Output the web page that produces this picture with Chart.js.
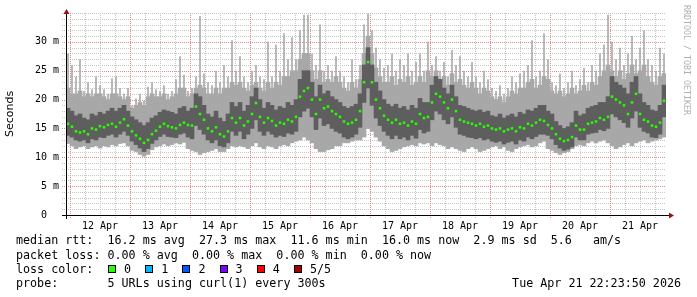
<!DOCTYPE html>
<html>
<head>
<meta charset="utf-8">
<script src="https://cdn.jsdelivr.net/npm/chart.js@4/dist/chart.umd.min.js"></script>
<style>
  html, body { margin: 0; padding: 0; background: #fff; }
  #wrap { position: relative; width: 697px; height: 297px; overflow: hidden; }
  #wrap canvas { position: absolute; left: 0; top: 0; }
  .row { position: absolute; left: 16px; font: 11.7px "DejaVu Sans Mono", monospace; line-height: 14px; white-space: pre; color: #000; }
  .sq { position: absolute; top: 3px; width: 8px; height: 8px; border: 1px solid #000; box-sizing: border-box; }
  .lab { position: absolute; top: 0; }
  #credit { position: absolute; left: 682px; top: 5px; writing-mode: vertical-rl; font: 8.3px "DejaVu Sans Mono", monospace; line-height: 10px; color: #b0b0b0; white-space: pre; }
</style>
</head>
<body>
<div id="wrap">
  <canvas id="grafico" width="697" height="297"></canvas>
  <div class="row" style="top:233px">median rtt:  16.2 ms avg  27.3 ms max  11.6 ms min  16.0 ms now  2.9 ms sd  5.6   am/s</div>
  <div class="row" style="top:248px">packet loss: 0.00 % avg  0.00 % max  0.00 % min  0.00 % now</div>
  <div class="row" id="lossRow" style="top:262px">loss color:</div>
  <div class="row" style="top:276px">probe:       5 URLs using curl(1) every 300s</div>
  <div class="row" style="top:276px;left:auto;right:16px">Tue Apr 21 22:23:50 2026</div>
  <div id="credit">RRDTOOL / TOBI OETIKER</div>
</div>
<script>
// hours relative to 12 Apr 00:00, one sample per 1.6 h
const startHour = -1.6;
const stepHours = 1.6;

const dayLabels = ['12 Apr', '13 Apr', '14 Apr', '15 Apr', '16 Apr', '17 Apr', '18 Apr', '19 Apr', '20 Apr', '21 Apr'];

// smoke: slowest ping (thin spikes)
const maxRtt = [
  28.0, 26.0, 24.0, 27.0, 21.5, 23.0, 21.8, 24.0, 22.5, 21.8, 21.0, 23.7, 24.0, 22.0, 21.0, 22.0, 19.0, 20.2, 21.0, 19.8, 22.2, 23.0, 21.8, 21.5, 22.5, 21.0, 21.5, 23.5, 27.5, 24.3,
  21.5, 22.0, 24.0, 34.5, 24.5, 23.0, 22.5, 25.0, 23.0, 26.0, 24.0, 30.3, 25.0, 27.5, 24.0, 23.0, 25.0, 26.0, 24.0, 23.5, 30.0, 24.0, 29.5, 25.0, 31.5, 27.0, 30.8, 27.0, 32.0, 34.7,
  34.7, 28.0, 26.0, 33.0, 25.0, 26.0, 25.0, 27.5, 25.0, 24.0, 23.0, 27.0, 23.5, 26.0, 33.0, 34.9, 32.0, 29.0, 27.0, 25.5, 26.0, 28.0, 25.0, 27.0, 26.0, 28.0, 25.0, 26.5, 28.0, 25.0,
  30.0, 26.0, 27.5, 25.0, 26.5, 24.0, 28.6, 26.0, 27.5, 25.0, 24.0, 26.5, 24.0, 23.0, 25.0, 23.5, 22.0, 21.5, 22.5, 21.0, 22.0, 24.0, 23.0, 24.5, 25.0, 26.0, 30.3, 24.0, 25.0, 31.5,
  27.0, 23.0, 22.5, 24.5, 22.0, 23.0, 25.0, 22.5, 23.5, 25.5, 23.0, 26.0, 25.0, 28.0, 29.5, 34.7, 30.0, 27.0, 29.0, 26.0, 28.0, 31.0, 27.0, 29.0, 32.0, 27.0, 26.0, 25.0, 29.0, 28.0
];
// smoke: top of the bulk of the slow pings
const smokeTop = [
  22.0, 21.0, 21.0, 21.5, 20.5, 21.0, 20.5, 21.0, 21.0, 20.5, 20.0, 21.0, 21.0, 20.5, 20.0, 20.5, 18.5, 19.0, 19.5, 19.0, 20.5, 21.0, 20.5, 20.5, 21.0, 20.0, 20.5, 21.0, 22.0, 22.0,
  20.5, 21.0, 22.0, 22.5, 22.0, 21.0, 21.0, 22.0, 21.0, 22.0, 22.0, 23.0, 22.5, 23.0, 22.0, 21.5, 22.5, 23.0, 22.0, 21.5, 23.0, 22.0, 23.0, 22.5, 24.0, 24.0, 25.0, 25.0, 27.0, 28.0,
  28.0, 25.0, 23.5, 25.0, 23.0, 23.5, 23.0, 24.0, 23.0, 22.0, 21.5, 23.0, 22.0, 23.5, 28.0, 31.0, 28.0, 25.5, 24.0, 23.0, 23.0, 24.0, 22.5, 23.5, 23.0, 24.0, 22.5, 23.0, 24.0, 23.0,
  25.0, 24.0, 25.0, 23.5, 24.0, 22.5, 24.5, 23.0, 23.5, 22.5, 22.0, 23.0, 22.0, 21.0, 22.0, 21.5, 20.5, 20.0, 20.5, 19.5, 20.5, 21.5, 21.0, 22.0, 22.0, 23.0, 23.5, 22.0, 22.5, 24.0,
  23.5, 21.5, 21.0, 21.5, 20.5, 21.0, 22.0, 21.0, 21.5, 22.5, 21.5, 23.0, 22.5, 24.0, 25.0, 26.0, 25.0, 24.0, 25.0, 23.5, 24.5, 26.0, 24.5, 25.0, 26.0, 24.0, 23.0, 22.5, 24.0, 24.5
];
// smoke: fastest ping
const minRtt = [
  12.4, 12.0, 11.5, 11.8, 12.0, 11.5, 11.8, 12.0, 11.6, 12.0, 11.8, 12.2, 12.0, 12.4, 12.5, 12.0, 11.2, 11.0, 10.5, 10.2, 10.5, 11.3, 11.8, 12.0, 12.3, 12.0, 12.2, 12.5, 12.3, 12.6,
  11.5, 11.2, 11.0, 10.5, 10.8, 11.0, 11.2, 11.5, 11.0, 11.0, 11.5, 12.0, 11.8, 12.0, 11.8, 11.5, 12.0, 12.5, 11.8, 11.5, 12.0, 11.8, 11.5, 12.0, 12.2, 12.0, 12.5, 12.8, 13.0, 13.5,
  13.0, 12.5, 11.5, 11.0, 11.0, 11.3, 11.5, 12.0, 12.0, 12.5, 12.5, 12.8, 13.0, 13.0, 13.5, 15.0, 14.5, 13.5, 12.8, 12.0, 11.5, 11.0, 11.2, 11.5, 11.8, 12.0, 12.2, 12.0, 12.5, 12.3,
  12.5, 12.0, 12.5, 12.2, 12.0, 11.5, 11.8, 11.5, 11.2, 11.0, 11.5, 11.8, 11.5, 11.0, 11.2, 11.5, 11.8, 12.0, 11.5, 11.8, 11.2, 11.0, 11.5, 11.8, 12.0, 12.2, 11.8, 12.0, 12.5, 12.8,
  11.5, 11.2, 10.8, 10.5, 10.8, 11.0, 11.5, 12.0, 12.2, 12.0, 12.5, 12.8, 12.5, 12.8, 13.0, 12.5, 12.0, 11.5, 11.8, 12.2, 12.5, 12.0, 12.5, 12.8, 13.0, 12.5, 12.8, 13.0, 13.2, 13.5
];
// dense part of the smoke
const upperRtt = [
  18.5, 18.0, 17.2, 17.5, 16.8, 16.5, 17.5, 17.2, 17.8, 17.5, 18.0, 18.5, 18.0, 18.5, 19.0, 18.0, 17.0, 16.5, 16.0, 15.5, 16.0, 16.8, 17.2, 17.8, 18.2, 18.0, 17.8, 17.5, 18.5, 18.8,
  18.0, 18.5, 21.0, 20.5, 19.0, 17.5, 17.0, 18.0, 16.8, 16.2, 17.5, 19.5, 18.8, 19.5, 18.0, 19.0, 20.5, 22.0, 20.0, 18.5, 19.5, 19.0, 18.2, 18.8, 18.5, 19.5, 19.0, 20.0, 23.5, 25.0,
  25.0, 23.0, 20.5, 22.5, 21.0, 21.5, 20.5, 20.0, 19.5, 18.8, 18.5, 18.8, 19.2, 21.0, 26.0, 29.0, 26.0, 23.0, 21.5, 20.0, 19.2, 18.8, 19.2, 18.5, 18.8, 18.2, 19.0, 18.5, 20.2, 19.5,
  19.5, 22.5, 24.0, 23.5, 22.0, 21.0, 22.5, 20.5, 19.0, 18.8, 18.5, 18.2, 18.0, 18.2, 17.8, 18.0, 17.2, 17.0, 17.5, 16.8, 17.2, 17.5, 17.0, 17.8, 17.5, 18.2, 18.0, 18.5, 19.0, 19.0,
  18.0, 17.5, 16.2, 15.5, 15.0, 15.3, 16.0, 18.0, 17.2, 17.5, 18.5, 18.8, 19.0, 19.5, 19.5, 20.5, 24.0, 23.0, 22.5, 22.0, 21.0, 23.0, 24.0, 21.0, 19.5, 19.0, 18.2, 18.0, 19.0, 22.5
];
const lowerRtt = [
  13.8, 13.5, 13.0, 12.8, 13.0, 12.5, 13.2, 13.0, 13.5, 13.4, 13.8, 14.0, 13.5, 14.0, 14.5, 13.8, 12.8, 12.2, 11.6, 11.0, 11.5, 12.4, 13.0, 13.6, 14.0, 13.6, 13.5, 13.4, 14.0, 14.2,
  13.5, 13.2, 15.5, 14.8, 14.0, 13.0, 12.5, 13.0, 12.0, 11.8, 12.5, 14.5, 13.8, 14.5, 13.2, 14.0, 15.0, 16.5, 14.5, 13.8, 14.5, 14.0, 13.5, 13.8, 13.6, 14.2, 14.0, 14.5, 17.0, 18.0,
  18.5, 17.0, 14.8, 16.8, 15.5, 15.8, 15.0, 14.5, 14.2, 13.5, 13.2, 13.5, 14.0, 15.2, 19.5, 22.0, 19.0, 16.8, 15.5, 14.5, 13.8, 13.2, 13.8, 13.2, 13.5, 13.0, 13.8, 13.3, 14.8, 14.2,
  14.5, 16.5, 18.0, 17.5, 16.5, 15.8, 17.0, 15.2, 14.0, 13.8, 13.5, 13.4, 13.2, 13.4, 13.0, 13.2, 12.8, 12.6, 12.8, 12.3, 12.6, 12.8, 12.3, 13.0, 12.8, 13.5, 13.2, 13.6, 14.0, 14.0,
  13.8, 13.2, 12.2, 11.6, 11.2, 11.4, 11.8, 13.5, 13.0, 13.0, 14.0, 14.2, 14.3, 14.8, 14.6, 15.0, 17.5, 17.0, 16.5, 16.0, 15.2, 16.8, 18.0, 15.2, 14.5, 14.2, 13.5, 13.4, 14.0, 17.0
];
const medianRtt = [
  15.8, 15.3, 14.5, 14.3, 14.5, 14.0, 15.0, 14.8, 15.4, 15.2, 15.6, 15.8, 15.3, 16.0, 16.6, 15.5, 14.5, 13.8, 13.2, 12.5, 13.0, 14.0, 14.6, 15.3, 15.8, 15.4, 15.2, 15.0, 15.6, 16.0,
  15.6, 15.5, 18.8, 17.5, 16.5, 15.0, 14.5, 15.2, 14.0, 13.6, 14.5, 16.8, 16.0, 16.8, 15.5, 16.2, 17.5, 19.4, 17.0, 16.0, 16.8, 16.3, 15.5, 16.0, 15.8, 16.5, 16.2, 17.0, 20.5, 21.5,
  22.0, 20.0, 17.5, 20.0, 18.5, 18.8, 18.0, 17.5, 17.0, 16.2, 15.8, 16.0, 16.5, 18.0, 23.0, 26.5, 23.0, 20.0, 18.5, 17.2, 16.5, 16.0, 16.5, 15.8, 16.0, 15.5, 16.2, 15.8, 17.5, 16.8,
  17.0, 19.5, 21.0, 20.5, 19.5, 18.5, 20.0, 18.0, 16.5, 16.2, 16.0, 15.8, 15.5, 15.8, 15.3, 15.5, 15.0, 14.8, 15.0, 14.5, 14.8, 15.0, 14.5, 15.2, 15.0, 15.8, 15.5, 16.0, 16.5, 16.3,
  15.6, 15.0, 14.0, 13.2, 12.8, 13.0, 13.5, 15.5, 14.8, 14.8, 15.8, 16.0, 16.2, 16.8, 16.5, 17.0, 20.5, 20.0, 19.5, 19.0, 17.5, 19.5, 21.0, 17.5, 16.5, 16.2, 15.5, 15.3, 16.0, 19.8
];

const lossLabels = ['0', '1', '2', '3', '4', '5/5'];
const lossColors = ['#26ff00', '#00b8ff', '#0059ff', '#7e00ff', '#ff0000', '#a10000'];

const majorGrid = '#e48a8a';
const minorGrid = '#c6c6c6';
const lightSmoke = '#a8a8a8';

const sampleHours = medianRtt.map((_, i) => startHour + stepHours * (i + 0.5));
const band = (lo, hi) => sampleHours.map((x, i) => ({ x: x, y: [lo[i], hi[i]] }));

// loss colour legend
const lossRow = document.getElementById('lossRow');
lossLabels.forEach((lab, k) => {
  const sq = document.createElement('span');
  sq.className = 'sq';
  sq.style.left = (92 + 37.2 * k) + 'px';
  sq.style.background = lossColors[k];
  lossRow.appendChild(sq);
  const t = document.createElement('span');
  t.className = 'lab';
  t.style.left = (108 + 37.2 * k) + 'px';
  t.textContent = lab;
  lossRow.appendChild(t);
});

// dotted rrdtool-like grid, placed with the chart scales
const rejilla = {
  id: 'rejilla',
  beforeDatasetsDraw(chart) {
    const { ctx, chartArea: a, scales: { x, y } } = chart;
    ctx.save();
    y.ticks.forEach(t => {
      const py = Math.round(y.getPixelForValue(t.value));
      ctx.fillStyle = (t.value % 5 === 0 && t.value < 35) ? majorGrid : minorGrid;
      for (let px = a.left - 4; px < a.right; px += 2) ctx.fillRect(px, py, 1, 1);
    });
    x.ticks.forEach(t => {
      const px = Math.round(x.getPixelForValue(t.value));
      ctx.fillStyle = (t.value % 24 === 0) ? majorGrid : minorGrid;
      for (let py = Math.round(a.top); py < a.bottom + 4; py += 2) ctx.fillRect(px, py, 1, 1);
    });
    ctx.restore();
  }
};

const ejes = {
  id: 'ejes',
  afterDraw(chart) {
    const { ctx, chartArea: a } = chart;
    ctx.save();
    ctx.strokeStyle = '#000';
    ctx.lineWidth = 1;
    ctx.beginPath();
    ctx.moveTo(a.left - 4, a.bottom + 0.5);
    ctx.lineTo(a.right + 3, a.bottom + 0.5);
    ctx.moveTo(a.left + 0.5, a.bottom + 4);
    ctx.lineTo(a.left + 0.5, a.top);
    ctx.stroke();
    ctx.fillStyle = '#9b1010';
    ctx.beginPath();
    ctx.moveTo(a.right + 8, a.bottom + 0.5);
    ctx.lineTo(a.right + 3, a.bottom - 2.5);
    ctx.lineTo(a.right + 3, a.bottom + 3.5);
    ctx.closePath();
    ctx.fill();
    ctx.beginPath();
    ctx.moveTo(a.left + 0.5, a.top - 4);
    ctx.lineTo(a.left - 2.5, a.top + 1);
    ctx.lineTo(a.left + 3.5, a.top + 1);
    ctx.closePath();
    ctx.fill();
    ctx.restore();
  }
};

const canvas = document.getElementById('grafico');

new Chart(canvas, {
  type: 'bar',
  data: {
    datasets: [
      {
        type: 'line',
        data: sampleHours.map((x, i) => ({ x: x, y: medianRtt[i] })),
        showLine: false,
        pointStyle: 'rect',
        pointRadius: 1.8,
        pointBorderWidth: 0,
        pointBackgroundColor: lossColors[0],
        order: 0
      },
      {
        data: band(lowerRtt, upperRtt),
        backgroundColor: '#5e5e5e',
        grouped: false,
        barPercentage: 1,
        categoryPercentage: 1,
        order: 1
      },
      {
        data: band(minRtt, smokeTop),
        backgroundColor: lightSmoke,
        grouped: false,
        barPercentage: 1,
        categoryPercentage: 1,
        order: 2
      },
      {
        data: band(minRtt, maxRtt),
        backgroundColor: lightSmoke,
        grouped: false,
        barPercentage: 0.4,
        categoryPercentage: 1,
        order: 3
      }
    ]
  },
  options: {
    responsive: false,
    animation: false,
    layout: { padding: { left: 0, right: 31, top: 13, bottom: 62 } },
    plugins: {
      legend: { display: false },
      tooltip: { enabled: false }
    },
    scales: {
      x: {
        type: 'linear',
        min: startHour,
        max: startHour + stepHours * medianRtt.length,
        offset: false,
        afterBuildTicks: s => {
          const t = [];
          for (let h = 0; h < s.max; h += 6) t.push({ value: h });
          s.ticks = t;
        },
        afterFit: s => { s.height = 20; },
        grid: { offset: false, color: 'rgba(0,0,0,0)', tickLength: 3 },
        border: { display: false },
        ticks: {
          autoSkip: false,
          maxRotation: 0,
          padding: 2,
          color: '#000',
          font: { family: 'DejaVu Sans Mono', size: 10 },
          callback: v => (v % 24 === 12) ? dayLabels[(v - 12) / 24] : ''
        }
      },
      y: {
        min: 0,
        max: 35,
        afterBuildTicks: s => {
          const t = [];
          for (let v = 0; v <= 35; v++) t.push({ value: v });
          s.ticks = t;
        },
        afterFit: s => { s.width = 66; },
        grid: { color: 'rgba(0,0,0,0)', tickLength: 3 },
        border: { display: false },
        title: {
          display: true,
          text: 'Seconds',
          color: '#000',
          font: { family: 'DejaVu Sans', size: 11 },
          padding: { top: 4, bottom: 0 }
        },
        ticks: {
          autoSkip: false,
          padding: 4,
          color: '#000',
          font: { family: 'DejaVu Sans Mono', size: 10 },
          callback: v => (v % 5 === 0 && v < 35) ? (v === 0 ? '0  ' : v + ' m') : ''
        }
      }
    }
  },
  plugins: [rejilla, ejes]
});
</script>
</body>
</html>
